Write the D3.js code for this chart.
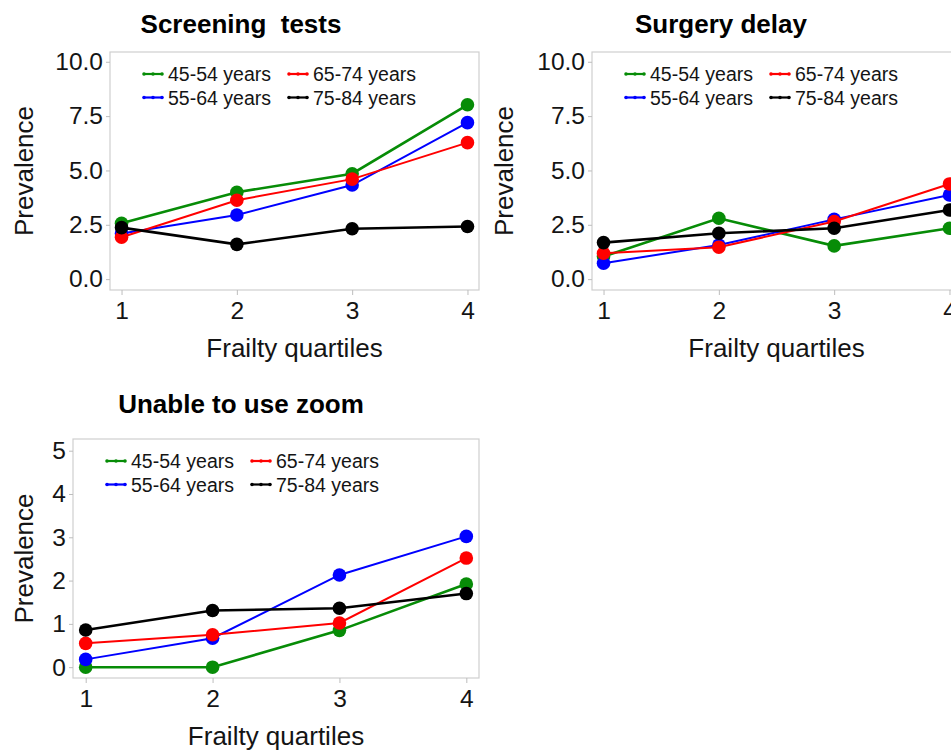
<!DOCTYPE html>
<html>
<head>
<meta charset="utf-8">
<script src="https://cdn.jsdelivr.net/npm/d3@7"></script>
<style>
  body { margin: 0; background: #fff; }
  text { font-family: "Liberation Sans", Arial, sans-serif; }
</style>
</head>
<body>
<script>
// data
const quartiles = [1, 2, 3, 4];
const ageGroups = ["45-54 years", "55-64 years", "65-74 years", "75-84 years"];
const groupColors = ["#078c07", "#0000ff", "#ff0000", "#000000"];
const groupWidths = [2.6, 2, 2, 2.6];

// one row per age group, in ageGroups order
const screeningTests = [
    [2.57, 4.0, 4.85, 8.02],
    [2.1, 2.95, 4.33, 7.2],
    [1.93, 3.63, 4.6, 6.28],
    [2.37, 1.6, 2.32, 2.42]
];
const surgeryDelay = [
    [1.04, 2.8, 1.53, 2.34],
    [0.73, 1.57, 2.75, 3.87],
    [1.19, 1.47, 2.65, 4.38],
    [1.68, 2.11, 2.34, 3.18]
];
const unableZoom = [
    [0, 0, 0.85, 1.92],
    [0.18, 0.67, 2.13, 3.02],
    [0.55, 0.75, 1.02, 2.52],
    [0.86, 1.31, 1.36, 1.7]
];

const ticksTen = [0, 2.5, 5, 7.5, 10];
const ticksFive = [0, 1, 2, 3, 4, 5];

const W = 951, H = 751;
const svg = d3.select("body").append("svg")
    .attr("width", W).attr("height", H);

const panels = [
    { title: "Screening  tests", data: screeningTests, ox: 0, oy: 0,
      box: [110, 52, 479, 290], yDomain: [-0.5, 10.45], ticks: ticksTen, fmt: d3.format(".1f") },
    { title: "Surgery delay", data: surgeryDelay, ox: 480, oy: 0,
      box: [592, 52, 961, 290], yDomain: [-0.5, 10.45], ticks: ticksTen, fmt: d3.format(".1f") },
    { title: "Unable to use zoom", data: unableZoom, ox: 0, oy: 380,
      box: [73, 439, 479, 678], yDomain: [-0.25, 5.27], ticks: ticksFive, fmt: d3.format("d") }
];

panels.forEach(p => {
    const [x0, y0, x1, y1] = p.box;
    const g = svg.append("g");

    const x = d3.scaleLinear().domain([0.9, 4.1]).range([x0, x1]);
    const y = d3.scaleLinear().domain(p.yDomain).range([y1, y0]);

    // title (keeps the double space)
    g.append("text")
        .attr("x", p.ox + 241).attr("y", p.oy + 33)
        .attr("text-anchor", "middle")
        .style("white-space", "pre")
        .style("font-size", "26px").style("font-weight", "bold")
        .text(p.title);

    // frame
    g.append("rect")
        .attr("x", x0).attr("y", y0)
        .attr("width", x1 - x0).attr("height", y1 - y0)
        .attr("fill", "none").attr("stroke", "#cfcfcf").attr("stroke-width", 1.2);

    const yAxis = g.append("g")
        .attr("transform", `translate(${x0},0)`)
        .call(d3.axisLeft(y).tickValues(p.ticks).tickFormat(p.fmt).tickSize(4).tickPadding(3));
    const xAxis = g.append("g")
        .attr("transform", `translate(0,${y1})`)
        .call(d3.axisBottom(x).tickValues(quartiles).tickFormat(d3.format("d")).tickSize(5).tickPadding(7));

    [yAxis, xAxis].forEach(a => {
        a.select(".domain").remove();
        a.selectAll(".tick line").attr("stroke", "#bdbdbd");
        a.selectAll(".tick text")
            .attr("fill", "#141414")
            .style("font-size", "24.5px")
            .style("font-family", "'Liberation Sans', Arial, sans-serif");
    });

    // axis labels
    g.append("text")
        .attr("transform", `translate(${p.ox + 33},${(y0 + y1) / 2}) rotate(-90)`)
        .attr("text-anchor", "middle")
        .attr("fill", "#141414")
        .style("font-size", "26px")
        .text("Prevalence");
    g.append("text")
        .attr("x", (x0 + x1) / 2).attr("y", y1 + 67)
        .attr("text-anchor", "middle")
        .attr("fill", "#141414")
        .style("font-size", "26px")
        .text("Frailty quartiles");

    // series
    const line = d3.line().x((d, i) => x(quartiles[i])).y(d => y(d));
    p.data.forEach((vals, k) => {
        g.append("path")
            .datum(vals)
            .attr("d", line)
            .attr("fill", "none")
            .attr("stroke", groupColors[k])
            .attr("stroke-width", groupWidths[k]);
        g.selectAll(null)
            .data(vals)
            .join("circle")
            .attr("cx", (d, i) => x(quartiles[i]))
            .attr("cy", d => y(d))
            .attr("r", 6.8)
            .attr("fill", groupColors[k]);
    });

    // legend, two columns
    ageGroups.forEach((name, k) => {
        const lx = x0 + 33 + (k >= 2 ? 145 : 0);
        const ly = y0 + 22 + (k % 2) * 23.5;
        const lg = g.append("g").attr("transform", `translate(${lx},${ly})`);
        lg.append("line")
            .attr("x1", 0).attr("x2", 20)
            .attr("stroke", groupColors[k]).attr("stroke-width", 2.2);
        lg.selectAll("circle")
            .data([1, 10, 19])
            .join("circle")
            .attr("cx", d => d).attr("r", 1.8)
            .attr("fill", groupColors[k]);
        lg.append("text")
            .attr("x", 25).attr("y", 7)
            .attr("fill", "#141414")
            .style("font-size", "19.5px")
            .text(name);
    });
});
</script>
</body>
</html>
